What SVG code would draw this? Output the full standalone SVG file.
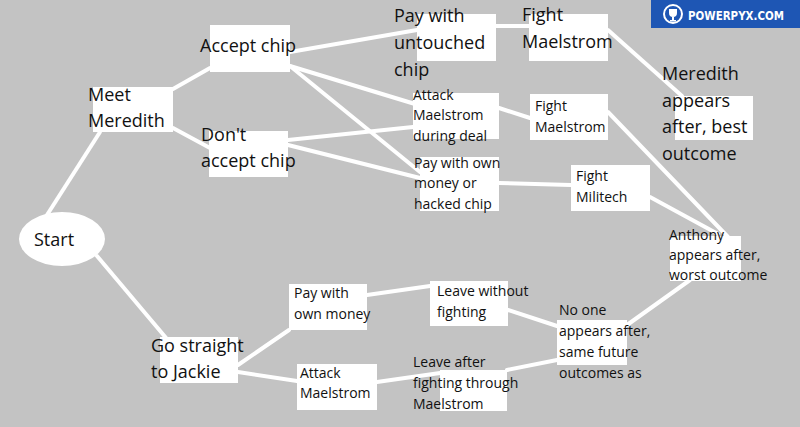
<svg xmlns="http://www.w3.org/2000/svg" width="800" height="427" viewBox="0 0 800 427">
<style>
.b{fill:#fff}
.c line{stroke:#fff;stroke-width:4;stroke-linecap:round}
text{font-family:"Open Sans","Noto Sans","Liberation Sans",sans-serif;fill:#111}
.l{font-size:18px}
.s{font-size:14px}
</style>
<rect width="800" height="427" fill="#c3c3c3"/>
<g class="c">
<line x1="47" y1="215" x2="100" y2="132"/>
<line x1="97" y1="256" x2="172" y2="345"/>
<line x1="173" y1="89" x2="210" y2="68"/>
<line x1="173" y1="128" x2="210" y2="148"/>
<line x1="290" y1="52" x2="417" y2="30"/>
<line x1="290" y1="66" x2="415" y2="104"/>
<line x1="290" y1="66" x2="420" y2="172"/>
<line x1="288" y1="140" x2="413" y2="127"/>
<line x1="288" y1="145" x2="420" y2="178"/>
<line x1="496" y1="26" x2="529" y2="26"/>
<line x1="499" y1="108" x2="530" y2="118"/>
<line x1="499" y1="183" x2="571" y2="185"/>
<line x1="608" y1="30" x2="682" y2="96"/>
<line x1="608" y1="112" x2="728" y2="237"/>
<line x1="650" y1="197" x2="718" y2="234"/>
<line x1="238" y1="365" x2="289" y2="330"/>
<line x1="238" y1="372" x2="297" y2="381"/>
<line x1="367" y1="295" x2="430" y2="286"/>
<line x1="377" y1="382" x2="440" y2="373"/>
<line x1="508" y1="310" x2="557" y2="326"/>
<line x1="507" y1="370" x2="557" y2="360"/>
<line x1="627" y1="325" x2="690" y2="280"/>
</g>
<g id="start"><ellipse class="b" cx="62" cy="239" rx="43" ry="27"/><text class="l" x="34" y="246">Start</text></g>
<g id="meet"><rect class="b" x="93" y="87" width="80" height="45"/><text class="l" x="88" y="101">Meet</text><text class="l" x="88" y="127">Meredith</text></g>
<g id="accept"><rect class="b" x="210" y="25" width="80" height="47"/><text class="l" x="200" y="52">Accept chip</text></g>
<g id="dont"><rect class="b" x="209" y="131" width="79" height="46"/><text class="l" x="201" y="141">Don't</text><text class="l" x="201" y="167">accept chip</text></g>
<g id="untouched"><rect class="b" x="417" y="14" width="79" height="47"/><text class="l" x="394" y="22">Pay with</text><text class="l" x="394" y="49">untouched</text><text class="l" x="394" y="76">chip</text></g>
<g id="fight1"><rect class="b" x="529" y="14" width="79" height="47"/><text class="l" x="522" y="21">Fight</text><text class="l" x="522" y="48">Maelstrom</text></g>
<g id="meredith"><rect class="b" x="675" y="96" width="78" height="44"/><text class="l" x="662" y="80">Meredith</text><text class="l" x="662" y="107">appears</text><text class="l" x="662" y="133">after, best</text><text class="l" x="662" y="160">outcome</text></g>
<g id="attackdeal"><rect class="b" x="413" y="93" width="86" height="46"/><text class="s" x="413" y="100">Attack</text><text class="s" x="413" y="120">Maelstrom</text><text class="s" x="413" y="141">during deal</text></g>
<g id="fight2"><rect class="b" x="530" y="94" width="78" height="46"/><text class="s" x="535" y="111">Fight</text><text class="s" x="535" y="132">Maelstrom</text></g>
<g id="payown"><rect class="b" x="420" y="157" width="79" height="54"/><text class="s" x="414" y="168">Pay with own</text><text class="s" x="414" y="188">money or</text><text class="s" x="414" y="209">hacked chip</text></g>
<g id="militech"><rect class="b" x="571" y="165" width="79" height="46"/><text class="s" x="576" y="181">Fight</text><text class="s" x="576" y="202">Militech</text></g>
<g id="anthony"><rect class="b" x="670" y="236" width="71" height="45"/><text class="s" x="669" y="240">Anthony</text><text class="s" x="669" y="260">appears after,</text><text class="s" x="669" y="280">worst outcome</text></g>
<g id="jackie"><rect class="b" x="160" y="337" width="78" height="46"/><text class="l" x="151" y="352">Go straight</text><text class="l" x="151" y="378">to Jackie</text></g>
<g id="paymoney"><rect class="b" x="289" y="284" width="78" height="46"/><text class="s" x="294" y="298">Pay with</text><text class="s" x="294" y="319">own money</text></g>
<g id="leavewo"><rect class="b" x="430" y="281" width="78" height="45"/><text class="s" x="437" y="296">Leave without</text><text class="s" x="437" y="317">fighting</text></g>
<g id="attackm"><rect class="b" x="297" y="364" width="80" height="46"/><text class="s" x="300" y="378">Attack</text><text class="s" x="300" y="398">Maelstrom</text></g>
<g id="leaveafter"><rect class="b" x="440" y="370" width="67" height="41"/><text class="s" x="413" y="367">Leave after</text><text class="s" x="413" y="388">fighting through</text><text class="s" x="413" y="409">Maelstrom</text></g>
<g id="noone"><rect class="b" x="557" y="320" width="70" height="45"/><text class="s" x="559" y="315">No one</text><text class="s" x="559" y="336">appears after,</text><text class="s" x="559" y="357">same future</text><text class="s" x="559" y="378">outcomes as</text></g>
<g id="logo"><rect x="651" y="0" width="149" height="28" fill="#1e56b4"/><circle cx="673" cy="14" r="9" fill="none" stroke="#fff" stroke-width="2"/><path d="M669 9h8v4a4 4 0 0 1-8 0z M672 17h2v3h-2z M670 20h6v1.5h-6z" fill="#fff"/><text x="688" y="20" textLength="96" lengthAdjust="spacingAndGlyphs" style="font-family:'DejaVu Sans Condensed','Liberation Sans',sans-serif;font-weight:bold;font-size:13px;fill:#fff">POWERPYX.COM</text></g>
</svg>
